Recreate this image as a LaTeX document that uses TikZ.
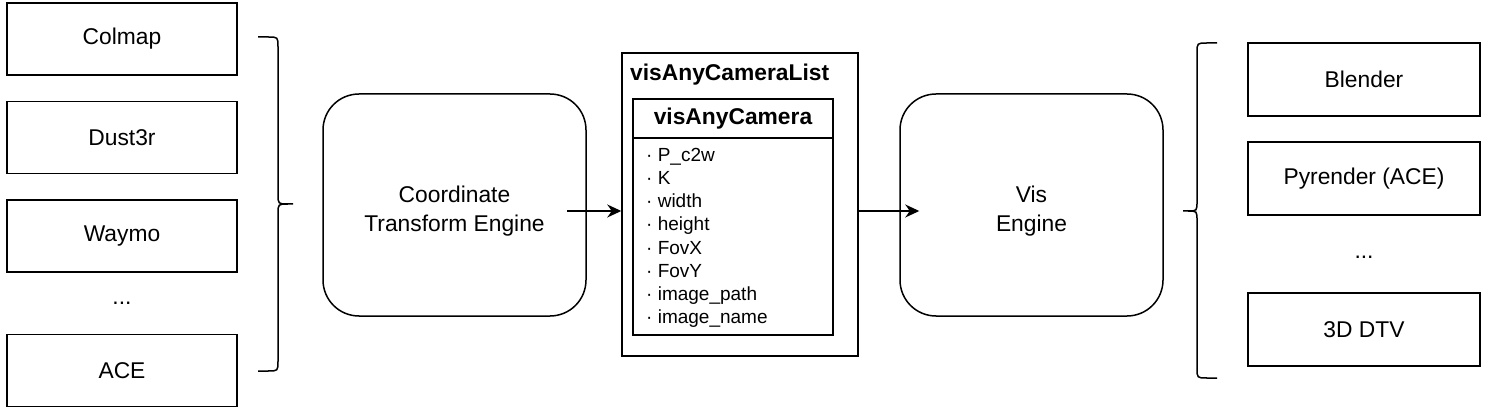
\documentclass[tikz,border=0pt]{standalone}
\usepackage{fontspec}
\setmainfont{Liberation Sans}
\usepackage{tikz}
\usetikzlibrary{arrows.meta,calc,positioning}

\begin{document}
\begin{tikzpicture}[
		x=1pt, y=1pt,
		srcbox/.style={rectangle, draw, line width=1.5pt, minimum width=230, minimum height=72, inner sep=0pt, font=\fontsize{22.8}{27}\selectfont},
		engine/.style={rectangle, draw, line width=1.5pt, rounded corners=36pt, minimum width=263, minimum height=222, inner sep=0pt},
		enginetext/.style={inner sep=0pt, align=center, font=\fontsize{22.8}{29}\selectfont},
		plain/.style={inner sep=0pt, font=\fontsize{22.8}{27}\selectfont},
		field/.style={inner sep=0pt, anchor=base west, font=\fontsize{19}{23}\selectfont},
		brace/.style={draw, line width=1.5pt},
		->,>={Stealth[length=14pt,width=13pt]}
		]
		\useasboundingbox (0,0) rectangle (1488,410);
		
		% Les sources
		\node[srcbox] (colmap) at (122, 371) {Colmap};
		\node[srcbox] (dust) at (122, 272.5) {Dust3r};
		\node[srcbox] (waymo) at (122, 174) {Waymo};
		\node[plain, anchor=base] (srcdots) at (122, 106) {...};
		\node[srcbox] (ace) at (122, 39.5) {ACE};
		
		% Les moteurs
		\node[engine] (ct) at (454.5, 205) {};
		\node[enginetext] (cttext) at ($(ct)+(0,-6)$) {Coordinate\\Transform Engine};
		\node[engine] (vis) at (1031.5, 205) {};
		\node[enginetext] (vistext) at ($(vis)+(0,-6)$) {Vis\\Engine};
		
		% La liste de caméras
		\node[rectangle, draw, line width=1.5pt, minimum width=236, minimum height=303, inner sep=0pt] (camlist) at (740, 205.5) {};
		\node[plain, anchor=west, font=\fontsize{22.8}{27}\selectfont\bfseries] (listtitle) at (630, 335) {visAnyCameraList};
		\node[rectangle, draw, line width=1.5pt, minimum width=200, minimum height=236, inner sep=0pt] (cam) at (733, 193) {};
		\node[plain, font=\fontsize{22.8}{27}\selectfont\bfseries] (camtitle) at (733, 291) {visAnyCamera};
		\draw[-, line width=1.5pt] (cam.west |- 0,272) -- (cam.east |- 0,272);
		\node[field] (f1) at (646, 248) {· P\_c2w};
		\node[field] (f2) at (646, 225) {· K};
		\node[field] (f3) at (646, 202) {· width};
		\node[field] (f4) at (646, 179) {· height};
		\node[field] (f5) at (646, 156) {· FovX};
		\node[field] (f6) at (646, 133) {· FovY};
		\node[field] (f7) at (646, 110) {· image\_path};
		\node[field] (f8) at (646, 87) {· image\_name};
		
		% Les cibles
		\node[srcbox, minimum width=232, minimum height=73] (blender) at (1364, 330.5) {Blender};
		\node[srcbox, minimum width=232, minimum height=73] (pyr) at (1364, 231.5) {Pyrender (ACE)};
		\node[plain, anchor=base] (dstdots) at (1364, 151) {...};
		\node[srcbox, minimum width=232, minimum height=73] (dtv) at (1364, 80.5) {3D DTV};
		
		% Les accolades
		\draw[-, brace] (258,373) -- (268,373) .. controls (278,373) .. (278,363) -- (278,216) .. controls (278,206) .. (288,206) -- (293,206)
			(288,206) .. controls (278,206) .. (278,196) -- (278,49) .. controls (278,39) .. (268,39) -- (258,39);
		\draw[-, brace] (1217,367) -- (1207,367) .. controls (1197,367) .. (1197,357) -- (1197,209) .. controls (1197,199) .. (1188,199) -- (1183,199)
			(1188,199) .. controls (1197,199) .. (1197,189) -- (1197,42) .. controls (1197,32) .. (1207,32) -- (1217,32);
		
		% Les flèches
		\coordinate (ctout) at ($(ct.east)+(-20,-6)$);
		\coordinate (visin) at ($(vis.west |- ctout)+(20,0)$);
		\draw[->, line width=1.5pt] (ctout) -- (ctout -| camlist.west);
		\draw[->, line width=1.5pt] (camlist.east |- ctout) -- (visin);
	\end{tikzpicture}
\end{document}
